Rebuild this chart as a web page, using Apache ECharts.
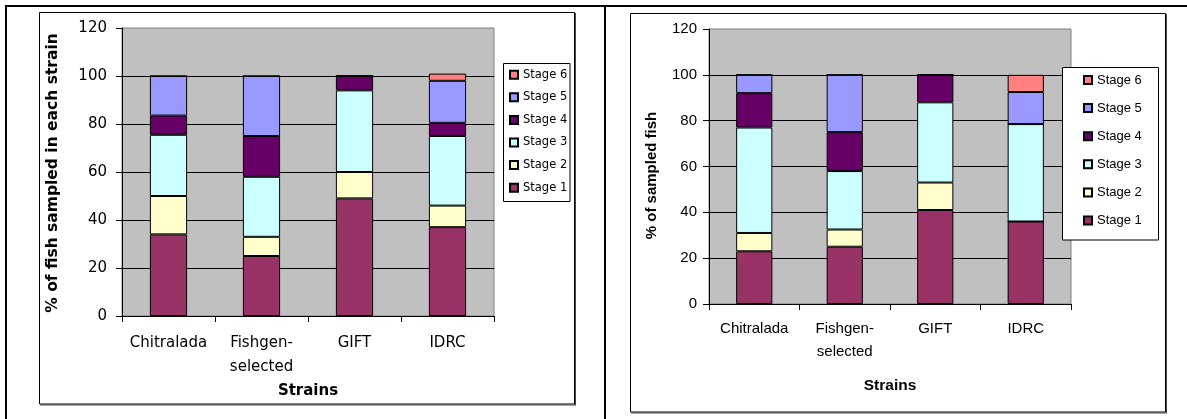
<!DOCTYPE html>
<html>
<head>
<meta charset="utf-8">
<script src="https://cdn.jsdelivr.net/npm/echarts@6/dist/echarts.min.js"></script>
<style>
html,body{margin:0;padding:0;background:#fff;}
#c{width:1187px;height:419px;}
</style>
</head>
<body>
<div id="c"></div>
<script>
// ---- data ----
const categories = ['Chitralada', 'Fishgen-\nselected', 'GIFT', 'IDRC'];
const stageNames = ['Stage 1', 'Stage 2', 'Stage 3', 'Stage 4', 'Stage 5', 'Stage 6'];
const legendOrder = ['Stage 6', 'Stage 5', 'Stage 4', 'Stage 3', 'Stage 2', 'Stage 1'];
const stageColors = ['#993366', '#FFFFCC', '#CCFFFF', '#660066', '#9999FF', '#FF8080'];

// left chart: % of fish sampled in each strain
const leftStage1 = [34, 25, 49, 37];
const leftStage2 = [16, 8, 11, 9];
const leftStage3 = [25.5, 25, 34, 29];
const leftStage4 = [8, 17, 6, 5.5];
const leftStage5 = [16.5, 25, 0, 17.5];
const leftStage6 = [0, 0, 0, 3];

// right chart: % of sampled fish
const rightStage1 = [23, 25, 41, 36];
const rightStage2 = [8, 7.5, 12, 0];
const rightStage3 = [46, 25.5, 35, 42.5];
const rightStage4 = [15, 17, 12, 0];
const rightStage5 = [8, 25, 0, 14];
const rightStage6 = [0, 0, 0, 7.5];

const yMin = 0, yMax = 120, yStep = 20;
const leftYName = '% of fish sampled in each strain';
const rightYName = '% of sampled fish';
const xName = 'Strains';

const leftSeriesData = [leftStage1, leftStage2, leftStage3, leftStage4, leftStage5, leftStage6];
const rightSeriesData = [rightStage1, rightStage2, rightStage3, rightStage4, rightStage5, rightStage6];

const LF = 'DejaVu Sans';
const RF = 'Liberation Sans';

function makeSeries(dataSets, idx, stack) {
  return dataSets.map((d, i) => ({
    name: stageNames[i],
    type: 'bar',
    stack: stack,
    xAxisIndex: idx,
    yAxisIndex: idx,
    barWidth: '40%',
    data: d,
    itemStyle: { color: stageColors[i], borderColor: '#000', borderWidth: 1 },
    emphasis: { disabled: true }
  }));
}

function xAxisOpt(idx, font, size, margin, lh, nameGap, nameSize) {
  return {
    gridIndex: idx, type: 'category', data: categories,
    axisLine: { lineStyle: { color: '#000', width: 1 } },
    axisTick: { show: true, length: 6, lineStyle: { color: '#000' } },
    axisLabel: { margin: margin, fontSize: size, lineHeight: lh, color: '#000', fontFamily: font, interval: 0 },
    name: xName, nameLocation: 'middle', nameGap: nameGap,
    nameTextStyle: { fontWeight: 'bold', fontSize: nameSize, fontFamily: font, color: '#000' }
  };
}

function yAxisOpt(idx, font, size, margin, name, nameGap, nameSize, namePad) {
  return {
    gridIndex: idx, type: 'value', min: yMin, max: yMax, interval: yStep,
    axisLine: { show: true, lineStyle: { color: '#000', width: 1 } },
    axisTick: { show: true, length: 6, lineStyle: { color: '#000' } },
    splitLine: { show: true, showMaxLine: false, lineStyle: { color: '#000', width: 1 } },
    axisLabel: { margin: margin, fontSize: size, color: '#000', fontFamily: font },
    name: name, nameLocation: 'middle', nameGap: nameGap,
    nameTextStyle: { fontWeight: 'bold', fontSize: nameSize, fontFamily: font, color: '#000', padding: namePad }
  };
}

const chart = echarts.init(document.getElementById('c'), null, { renderer: 'canvas' });

const option = {
  animation: false,
  backgroundColor: '#fff',
  grid: [
    { left: 122, top: 28, width: 372, height: 288, show: true, backgroundColor: '#C0C0C0', borderColor: '#808080', borderWidth: 1 },
    { left: 709, top: 29, width: 362, height: 275, show: true, backgroundColor: '#C0C0C0', borderColor: '#808080', borderWidth: 1 }
  ],
  xAxis: [
    xAxisOpt(0, LF, 15, 15, 24, 58, 15),
    xAxisOpt(1, RF, 15, 14, 22.4, 74, 15.5)
  ],
  yAxis: [
    yAxisOpt(0, LF, 15, 15, leftYName, 61, 15.5, [0, 2, 0, 0]),
    yAxisOpt(1, RF, 15, 12, rightYName, 50, 15, [0, 18, 0, 0])
  ],
  legend: [
    {
      data: legendOrder, orient: 'vertical', left: 509, top: 67.7,
      itemWidth: 8, itemHeight: 8, itemGap: 8.6, icon: 'rect', padding: 0,
      selectedMode: false, z: 20,
      textStyle: { fontSize: 11.5, lineHeight: 14, fontFamily: LF, color: '#000' }
    },
    {
      data: legendOrder, orient: 'vertical', left: 1083, top: 72,
      itemWidth: 8, itemHeight: 8, itemGap: 12.1, icon: 'rect', padding: 0,
      selectedMode: false, z: 20,
      textStyle: { fontSize: 13, lineHeight: 16, fontFamily: RF, color: '#000' }
    }
  ],
  graphic: [
    // table lines
    { type: 'line', z: 30, shape: { x1: 5, y1: 6, x2: 1187, y2: 6 }, style: { stroke: '#000', lineWidth: 2 } },
    { type: 'line', z: 30, shape: { x1: 6, y1: 5, x2: 6, y2: 419 }, style: { stroke: '#000', lineWidth: 2 } },
    { type: 'line', z: 30, shape: { x1: 605, y1: 5, x2: 605, y2: 419 }, style: { stroke: '#000', lineWidth: 2 } },
    // chart frames
    { type: 'rect', z: 1, shape: { x: 39.5, y: 12.5, width: 535, height: 391.5 }, style: { fill: 'none', stroke: '#000', lineWidth: 1 } },
    { type: 'line', z: 1, shape: { x1: 575.5, y1: 13, x2: 575.5, y2: 405 }, style: { stroke: '#444', lineWidth: 1 } },
    { type: 'line', z: 1, shape: { x1: 40, y1: 405, x2: 576, y2: 405 }, style: { stroke: '#444', lineWidth: 1 } },
    { type: 'rect', z: 1, shape: { x: 630.5, y: 13.5, width: 535, height: 398.5 }, style: { fill: 'none', stroke: '#000', lineWidth: 1 } },
    { type: 'line', z: 1, shape: { x1: 1166.5, y1: 14, x2: 1166.5, y2: 413 }, style: { stroke: '#444', lineWidth: 1 } },
    { type: 'line', z: 1, shape: { x1: 631, y1: 413, x2: 1167, y2: 413 }, style: { stroke: '#444', lineWidth: 1 } },
    // legend boxes
    { type: 'rect', z: 10, shape: { x: 503.5, y: 63.5, width: 66.5, height: 138 }, style: { fill: '#fff', stroke: '#000', lineWidth: 1 } },
    { type: 'rect', z: 10, shape: { x: 1062.5, y: 67.5, width: 96, height: 172.5 }, style: { fill: '#fff', stroke: '#000', lineWidth: 1 } }
  ],
  series: makeSeries(leftSeriesData, 0, 'left').concat(makeSeries(rightSeriesData, 1, 'right'))
};

chart.setOption(option);
</script>
</body>
</html>
